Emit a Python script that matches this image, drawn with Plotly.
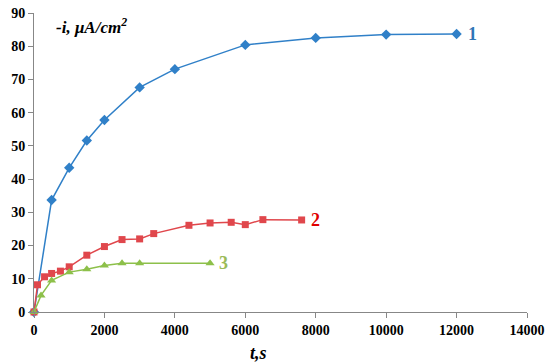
import plotly.graph_objects as go

x1 = [0, 500, 1000, 1500, 2000, 3000, 4000, 6000, 8000, 10000, 12000]
y1 = [0, 33.7, 43.4, 51.6, 57.8, 67.6, 73.1, 80.4, 82.5, 83.5, 83.7]

x2 = [0, 100, 300, 500, 750, 1000, 1500, 2000, 2500, 3000, 3400, 4400, 5000, 5600, 6000, 6500, 7600]
y2 = [0, 8.2, 10.6, 11.6, 12.3, 13.6, 17.1, 19.7, 21.8, 22.0, 23.6, 26.1, 26.8, 27.0, 26.3, 27.8, 27.7]

x3 = [0, 200, 500, 1000, 1500, 2000, 2500, 3000, 5000]
y3 = [0, 5.0, 9.5, 12.0, 12.9, 14.0, 14.7, 14.7, 14.7]

labels = ["1", "2", "3"]

blue = "#3080C8"
red = "#E0474C"
green = "#8DC04A"
serif = "Times New Roman"

fig = go.Figure()
fig.add_trace(go.Scatter(x=x1, y=y1, mode="lines+markers",
                         line=dict(color=blue, width=1.5),
                         marker=dict(symbol="diamond", size=8, color=blue),
                         cliponaxis=False))
fig.add_trace(go.Scatter(x=x2, y=y2, mode="lines+markers",
                         line=dict(color=red, width=1.5),
                         marker=dict(symbol="square", size=7, color=red),
                         cliponaxis=False))
fig.add_trace(go.Scatter(x=x3, y=y3, mode="lines+markers",
                         line=dict(color=green, width=1.5),
                         marker=dict(symbol="triangle-up", size=8, color=green),
                         cliponaxis=False))

lab_font = dict(family=serif, size=18, weight="bold")
fig.add_annotation(x=x1[-1], y=y1[-1], text=labels[0], showarrow=False,
                   xanchor="left", xshift=9, font=dict(color="#2E75B6", **lab_font))
fig.add_annotation(x=x2[-1], y=y2[-1], text=labels[1], showarrow=False,
                   xanchor="left", xshift=7, font=dict(color="#E00000", **lab_font))
fig.add_annotation(x=x3[-1], y=y3[-1], text=labels[2], showarrow=False,
                   xanchor="left", xshift=7, font=dict(color="#9BBB59", **lab_font))

fig.add_annotation(xref="paper", yref="paper", x=0.04, y=1.0, xanchor="left", yanchor="top",
                   yshift=0, text="<i>-i, μA/cm<sup>2</sup></i>", showarrow=False,
                   font=dict(family=serif, size=17, color="#000000", weight="bold"))
fig.add_annotation(xref="paper", yref="paper", x=0.455, y=0, xanchor="center", yanchor="top",
                   yshift=-29, text="<i>t,s</i>", showarrow=False,
                   font=dict(family=serif, size=18, color="#000000", weight="bold"))

axis_common = dict(showgrid=False, zeroline=False, showline=True, linecolor="#878787",
                   linewidth=1, ticks="outside", tickcolor="#878787", ticklen=5,
                   automargin=False,
                   tickfont=dict(family=serif, size=14, color="#000000", weight="bold"))

fig.update_xaxes(range=[0, 14000], dtick=2000, tickformat="d", **axis_common)
fig.update_yaxes(range=[0, 90], dtick=10, **axis_common)

fig.update_layout(width=550, height=362, showlegend=False,
                  plot_bgcolor="white", paper_bgcolor="white",
                  font=dict(family=serif),
                  margin=dict(l=34, r=23, t=13, b=50))

fig.write_html("out.html", config={"displayModeBar": False},
               post_script="document.body.style.margin='0';document.body.style.padding='0';")
